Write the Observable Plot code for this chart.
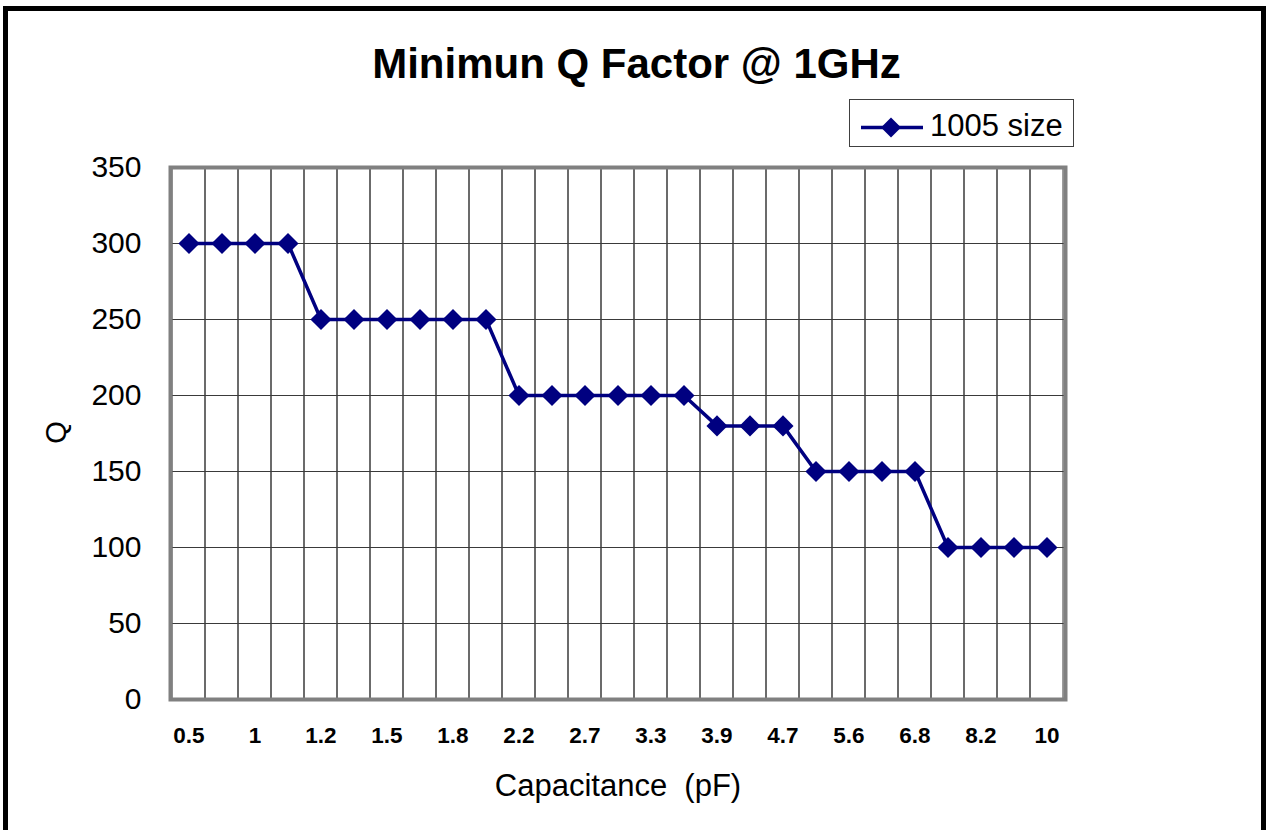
<!DOCTYPE html>
<html>
<head>
<meta charset="utf-8">
<script src="https://cdn.jsdelivr.net/npm/d3@7"></script>
<script src="https://cdn.jsdelivr.net/npm/@observablehq/plot@0.6"></script>
<style>
  html, body { margin: 0; padding: 0; background: #fff; overflow: hidden; }
  body { width: 1267px; height: 830px; position: relative; font-family: "Liberation Sans", Arial, sans-serif; }
  #frame { position: absolute; left: 3px; top: 6px; width: 1263px; height: 900px; border: 5.5px solid #000; box-sizing: border-box; }
  #title { position: absolute; left: 0; width: 1273px; top: 43px; text-align: center; font-size: 42px; line-height: 42px; font-weight: bold; color: #000; }
  #xlabel { position: absolute; left: 318px; width: 600px; top: 770px; text-align: center; font-size: 31px; line-height: 31px; color: #000; }
  #ylabel { position: absolute; left: 36px; width: 40px; top: 418px; height: 29px; text-align: center; font-size: 29px; line-height: 29px; transform: rotate(-90deg); color: #000; }
  #legend { position: absolute; left: 849px; top: 99px; width: 225px; height: 48px; border: 1px solid #404040; box-sizing: border-box; background: #fff; }
  #legend svg { position: absolute; left: 0; top: 0; }
  #legend span { position: absolute; left: 80px; top: 10px; font-size: 31px; line-height: 31px; color: #000; white-space: nowrap; }
  #chart { position: absolute; left: 0; top: 0; }
</style>
</head>
<body>
<div id="chart"></div>
<div id="frame"></div>
<div id="title">Minimun Q Factor @ 1GHz</div>
<div id="legend">
  <svg width="80" height="46"><line x1="11" y1="27.5" x2="73" y2="27.5" stroke="#000080" stroke-width="3.5"/><path d="M41,17.5L51,27.5L41,37.5L31,27.5Z" fill="#000080"/></svg>
  <span>1005 size</span>
</div>
<div id="xlabel">Capacitance&nbsp;&nbsp;(pF)</div>
<div id="ylabel">Q</div>
<script>
// Capacitance categories (pF) and minimum Q values
const caps = ["0.5","0.75","1","1.1","1.2","1.3","1.5","1.6","1.8","2.0","2.2","2.4","2.7","3.0","3.3","3.6","3.9","4.3","4.7","5.1","5.6","6.2","6.8","7.5","8.2","9.1","10"];
const qMin = [300,300,300,300,250,250,250,250,250,250,200,200,200,200,200,200,180,180,180,150,150,150,150,100,100,100,100];
const yTicks = [0,50,100,150,200,250,300,350];
const xTickLabels = ["0.5","1","1.2","1.5","1.8","2.2","2.7","3.3","3.9","4.7","5.6","6.8","8.2","10"];
const seriesName = "1005 size";

const data = caps.map((c, i) => ({cap: c, q: qMin[i], series: seriesName}));

const chart = Plot.plot({
  width: 1267,
  height: 830,
  marginLeft: 170,
  marginRight: 202,
  marginTop: 167,
  marginBottom: 131,
  style: {fontFamily: "'Liberation Sans', Arial, sans-serif", background: "transparent", color: "#000"},
  x: {type: "band", domain: caps, padding: 0, label: null},
  y: {domain: [0, 350], label: null},
  marks: [
    Plot.cell(caps, {x: d => d, fill: "none", stroke: "#3a3a3a", strokeWidth: 1, inset: 0}),
    Plot.ruleY(yTicks, {stroke: "#3a3a3a", strokeWidth: 1}),
    Plot.frame({stroke: "#808080", strokeWidth: 4}),
    Plot.axisY({ticks: yTicks, tickSize: 0, tickPadding: 29, fontSize: 30, label: null}),
    Plot.axisX({ticks: xTickLabels, tickSize: 0, tickPadding: 28, fontSize: 22.5, fontWeight: "bold", label: null}),
    Plot.line(data, {x: "cap", y: "q", stroke: "#000080", strokeWidth: 3.5}),
    Plot.dot(data, {x: "cap", y: "q", symbol: "diamond2", r: 9.5, fill: "#000080", stroke: "none"})
  ]
});
document.getElementById("chart").appendChild(chart);
</script>
</body>
</html>
